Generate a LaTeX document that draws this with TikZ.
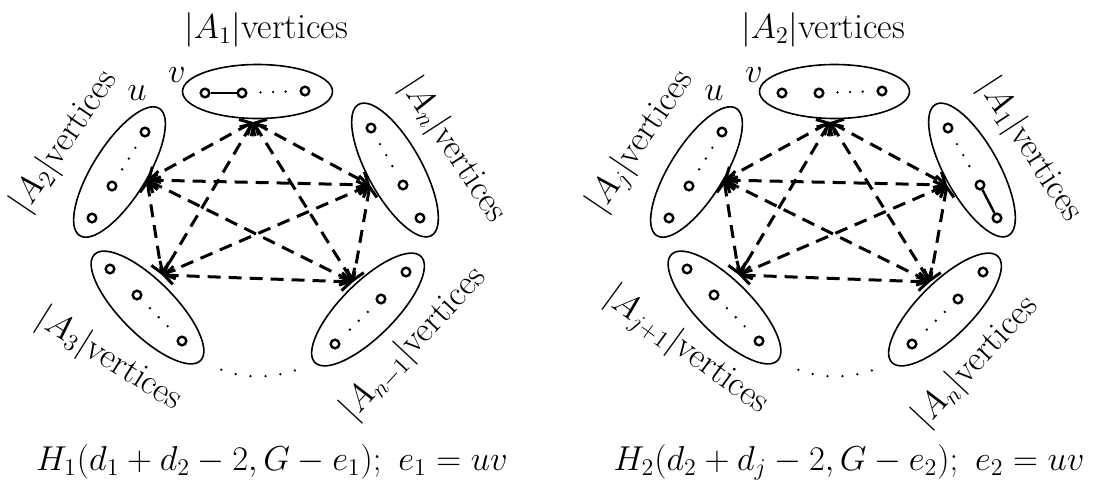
\documentclass[tikz,border=0pt]{standalone}
\usetikzlibrary{arrows.meta,shapes.geometric}

\begin{document}
\begin{tikzpicture}[
  x=0.5pt, y=-0.5pt,
  >={Straight Barb[length=4.5pt,width=9pt]},
  every node/.style={font=\fontsize{17.8}{21}\selectfont},
  caption/.style={font=\fontsize{18.4}{21}\selectfont},
  group/.style={draw, ellipse, line width=0.8pt, inner sep=0pt, minimum width=75pt, minimum height=27pt},
  vtx/.style={draw, circle, line width=1.2pt, inner sep=0pt, minimum size=4.3pt},
  edge/.style={line width=1.2pt},
  gapdots/.style={line width=1.3pt, line cap=round, dash pattern=on 0pt off 6.3pt, shorten <=6.5pt, shorten >=6.5pt},
  link/.style={<->, line width=1.5pt, dash pattern=on 6.5pt off 4pt}
]
\useasboundingbox (0,0) rectangle (1105,483);

% the two pictures share all groups, vertices and links
\foreach \d/\s in {a/0, b/577} {
\begin{scope}[shift={(\s,0)}]
  \node[group] (\d-top) at (257.5,91.5) {};
  \node[group, rotate=58] (\d-left) at (119.5,172) {};
  \node[group, rotate=-61] (\d-right) at (395,170) {};
  \node[group, rotate=-45] (\d-bl) at (147.5,307.5) {};
  \node[group, rotate=45] (\d-br) at (368,309.5) {};

  \node[vtx] (\d-top-1) at (205,93) {};
  \node[vtx] (\d-top-2) at (242,93) {};
  \node[vtx] (\d-top-3) at (305,91) {};
  \node[vtx] (\d-left-1) at (145,132) {};
  \node[vtx] (\d-left-2) at (112,186) {};
  \node[vtx] (\d-left-3) at (92,218) {};
  \node[vtx] (\d-right-1) at (371,128) {};
  \node[vtx] (\d-right-2) at (403,185) {};
  \node[vtx] (\d-right-3) at (420,218) {};
  \node[vtx] (\d-bl-1) at (110,269) {};
  \node[vtx] (\d-bl-2) at (137,295) {};
  \node[vtx] (\d-bl-3) at (182,341) {};
  \node[vtx] (\d-br-1) at (406,272) {};
  \node[vtx] (\d-br-2) at (381,299) {};
  \node[vtx] (\d-br-3) at (335,344) {};

  \draw[gapdots] (\d-top-2) -- (\d-top-3);
  \draw[gapdots] (\d-left-1) -- (\d-left-2);
  \draw[gapdots] (\d-right-1) -- (\d-right-2);
  \draw[gapdots] (\d-bl-2) -- (\d-bl-3);
  \draw[gapdots] (\d-br-2) -- (\d-br-3);
  \draw[line width=1.3pt, line cap=round, dash pattern=on 0pt off 7.5pt, shorten <=11pt, shorten >=8pt]
    (\d-bl.east) to[bend right=22] (\d-br.west);

  \node (\d-u) at (137,93) {$u$};
  \node (\d-v) at (177,75) {$v$};

  \coordinate (\d-T) at (253,122);
  \coordinate (\d-L) at (147,180);
  \coordinate (\d-R) at (370,185);
  \coordinate (\d-BL) at (162,275);
  \coordinate (\d-BR) at (353,282);
  \foreach \p/\q in {T/L, T/R, T/BL, T/BR, L/R, L/BL, L/BR, R/BL, R/BR, BL/BR}
    \draw[link] (\d-\p) -- (\d-\q);
\end{scope}
}

% left picture
\draw[edge] (a-top-1) -- (a-top-2);
\node (a-lab-top) at (266,30) {$|A_1|$vertices};
\node[rotate=56] (a-lab-left) at (65,142) {$|A_2|$vertices};
\node[rotate=-57] (a-lab-right) at (453,150) {$|A_n|$vertices};
\node[rotate=-32] (a-lab-bl) at (109,360) {$|A_3|$vertices};
\node[rotate=47] (a-lab-br) at (414,344) {$|A_{n-1}|$vertices};
\node[caption] (a-cap) at (272,462) {$H_1(d_1+d_2-2,G-e_1);\ e_1=uv$};

% right picture
\draw[edge] (b-right-2) -- (b-right-3);
\node (b-lab-top) at (823,30) {$|A_2|$vertices};
\node[rotate=56] (b-lab-left) at (641,142) {$|A_j|$vertices};
\node[rotate=-57] (b-lab-right) at (1030,150) {$|A_1|$vertices};
\node[rotate=-36] (b-lab-bl) at (686,351) {$|A_{j+1}|$vertices};
\node[rotate=47] (b-lab-br) at (976,362) {$|A_n|$vertices};
\node[caption] (b-cap) at (849,462) {$H_2(d_2+d_j-2,G-e_2);\ e_2=uv$};
\end{tikzpicture}
\end{document}
